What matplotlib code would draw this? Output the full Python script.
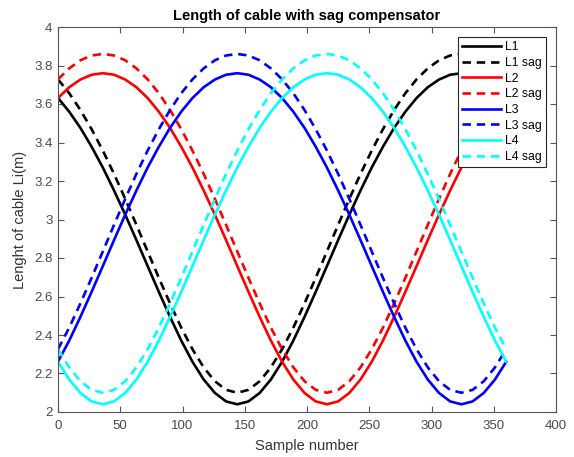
import matplotlib
matplotlib.use("Agg")
import matplotlib.pyplot as plt

plt.rcParams['font.family'] = ['Liberation Sans', 'DejaVu Sans']

samples = list(range(0, 361, 9))

L1 = [3.631, 3.560, 3.476, 3.378, 3.270, 3.151, 3.025, 2.893, 2.758, 2.624, 2.494, 2.371, 2.261, 2.169, 2.099, 2.055, 2.040,
      2.055, 2.099, 2.169, 2.261, 2.371, 2.494, 2.624, 2.758, 2.893, 3.025, 3.151, 3.270, 3.378, 3.476, 3.560, 3.631, 3.687, 3.727, 3.752, 3.760,
      3.752, 3.727, 3.687, 3.631]
L1_sag = [3.728, 3.656, 3.569, 3.469, 3.358, 3.237, 3.107, 2.972, 2.834, 2.697, 2.564, 2.438, 2.326, 2.232, 2.160, 2.115, 2.100,
          2.115, 2.160, 2.232, 2.326, 2.438, 2.564, 2.697, 2.834, 2.972, 3.107, 3.237, 3.358, 3.469, 3.569, 3.656, 3.728, 3.785, 3.827, 3.852, 3.860,
          3.852, 3.827, 3.785, 3.728]
L2 = [3.631, 3.687, 3.727, 3.752, 3.760,
      3.752, 3.727, 3.687, 3.631, 3.560, 3.476, 3.378, 3.270, 3.151, 3.025, 2.893, 2.758, 2.624, 2.494, 2.371, 2.261, 2.169, 2.099, 2.055, 2.040,
      2.055, 2.099, 2.169, 2.261, 2.371, 2.494, 2.624, 2.758, 2.893, 3.025, 3.151, 3.270, 3.378, 3.476, 3.560, 3.631]
L2_sag = [3.728, 3.785, 3.827, 3.852, 3.860,
          3.852, 3.827, 3.785, 3.728, 3.656, 3.569, 3.469, 3.358, 3.237, 3.107, 2.972, 2.834, 2.697, 2.564, 2.438, 2.326, 2.232, 2.160, 2.115, 2.100,
          2.115, 2.160, 2.232, 2.326, 2.438, 2.564, 2.697, 2.834, 2.972, 3.107, 3.237, 3.358, 3.469, 3.569, 3.656, 3.728]
L3 = [2.261, 2.371, 2.494, 2.624, 2.758, 2.893, 3.025, 3.151, 3.270, 3.378, 3.476, 3.560, 3.631, 3.687, 3.727, 3.752, 3.760,
      3.752, 3.727, 3.687, 3.631, 3.560, 3.476, 3.378, 3.270, 3.151, 3.025, 2.893, 2.758, 2.624, 2.494, 2.371, 2.261, 2.169, 2.099, 2.055, 2.040,
      2.055, 2.099, 2.169, 2.261]
L3_sag = [2.326, 2.438, 2.564, 2.697, 2.834, 2.972, 3.107, 3.237, 3.358, 3.469, 3.569, 3.656, 3.728, 3.785, 3.827, 3.852, 3.860,
          3.852, 3.827, 3.785, 3.728, 3.656, 3.569, 3.469, 3.358, 3.237, 3.107, 2.972, 2.834, 2.697, 2.564, 2.438, 2.326, 2.232, 2.160, 2.115, 2.100,
          2.115, 2.160, 2.232, 2.326]
L4 = [2.261, 2.169, 2.099, 2.055, 2.040,
      2.055, 2.099, 2.169, 2.261, 2.371, 2.494, 2.624, 2.758, 2.893, 3.025, 3.151, 3.270, 3.378, 3.476, 3.560, 3.631, 3.687, 3.727, 3.752, 3.760,
      3.752, 3.727, 3.687, 3.631, 3.560, 3.476, 3.378, 3.270, 3.151, 3.025, 2.893, 2.758, 2.624, 2.494, 2.371, 2.261]
L4_sag = [2.326, 2.232, 2.160, 2.115, 2.100,
          2.115, 2.160, 2.232, 2.326, 2.438, 2.564, 2.697, 2.834, 2.972, 3.107, 3.237, 3.358, 3.469, 3.569, 3.656, 3.728, 3.785, 3.827, 3.852, 3.860,
          3.852, 3.827, 3.785, 3.728, 3.656, 3.569, 3.469, 3.358, 3.237, 3.107, 2.972, 2.834, 2.697, 2.564, 2.438, 2.326]

labels = ["L1", "L1 sag", "L2", "L2 sag", "L3", "L3 sag", "L4", "L4 sag"]
series = [L1, L1_sag, L2, L2_sag, L3, L3_sag, L4, L4_sag]
colors = ["#000000", "#000000", "#FF0000", "#FF0000", "#0000FF", "#0000FF", "#00FFFF", "#00FFFF"]

xticks = [0, 50, 100, 150, 200, 250, 300, 350, 400]
yticks = [2, 2.2, 2.4, 2.6, 2.8, 3, 3.2, 3.4, 3.6, 3.8, 4]
ytick_labels = ["2", "2.2", "2.4", "2.6", "2.8", "3", "3.2", "3.4", "3.6", "3.8", "4"]

fig = plt.figure(figsize=(5.74, 4.57), dpi=100)
ax = fig.add_axes([58/574, 1-412/457, 498/574, 385/457])

for i, (lab, ys, c) in enumerate(zip(labels, series, colors)):
    if i % 2 == 0:
        ax.plot(samples, ys, color=c, lw=1.9, label=lab)
    else:
        ax.plot(samples, ys, color=c, lw=1.9, ls=(0, (3.2, 2.2)), label=lab)

ax.set_xlim(0, 400)
ax.set_ylim(2, 4)
ax.set_xticks(xticks)
ax.set_yticks(yticks)
ax.set_yticklabels(ytick_labels)

gray = "#262626"
for s in ax.spines.values():
    s.set_color("#555555")
    s.set_linewidth(0.8)
ax.tick_params(direction="in", top=True, right=True, length=4, width=0.8,
               colors="#555555", labelsize=9.5, labelcolor="#4a4a4a")
ax.tick_params(axis="x", pad=6)
ax.tick_params(axis="y", pad=4)

ax.set_xlabel("Sample number", fontsize=10.5, color="#333333", labelpad=5)
ax.set_ylabel("Lenght of cable Li(m)", fontsize=10.5, color="#333333", labelpad=5)
ax.set_title("Length of cable with sag compensator", fontsize=10.5, fontweight="bold", pad=5)

leg = ax.legend(loc="upper right", bbox_to_anchor=((546-58)/498, (412-37)/385),
                borderaxespad=0, fancybox=False, framealpha=1, edgecolor=gray,
                fontsize=8.8, handlelength=3.2, handletextpad=0.3, labelspacing=0.3,
                borderpad=0.35)
leg.get_frame().set_linewidth(0.8)

fig.savefig("out.png", dpi=100)
